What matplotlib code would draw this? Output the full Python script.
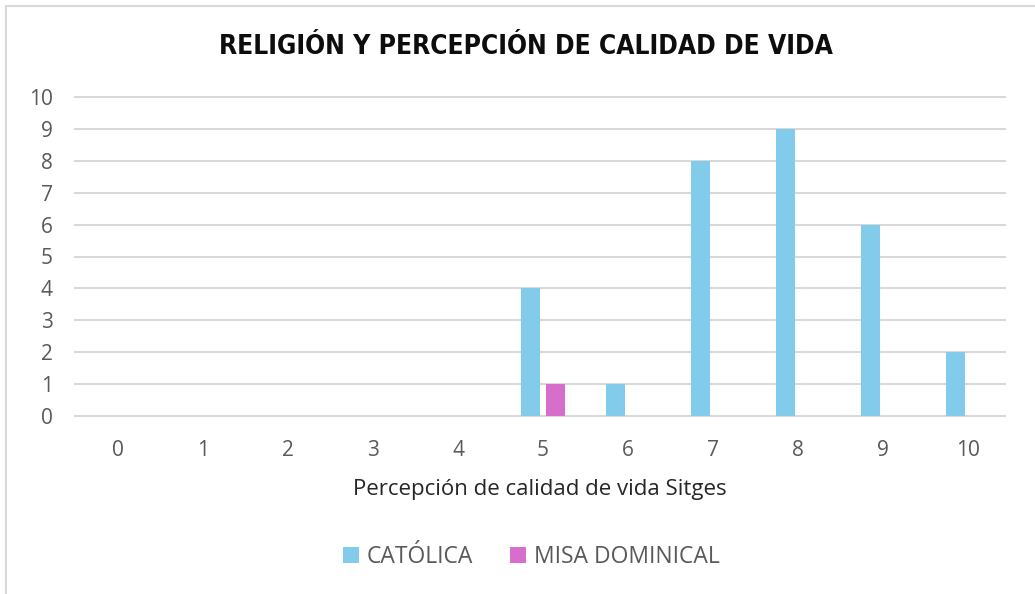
"""Religión y percepción de calidad de vida - bar chart."""

import matplotlib.pyplot as plt
import numpy as np
from matplotlib.patches import Rectangle

categories = ["0", "1", "2", "3", "4", "5", "6", "7", "8", "9", "10"]
catolica = [0, 0, 0, 0, 0, 4, 1, 8, 9, 6, 2]
misa_dominical = [0, 0, 0, 0, 0, 1, 0, 0, 0, 0, 0]
y_ticks = list(range(0, 11))

TEXT_GRAY = "#595959"
GRID = "#d9d9d9"
BLUE = "#83cbeb"
PINK = "#d86ecc"

plt.rcParams["font.family"] = ["Open Sans", "DejaVu Sans"]

fig = plt.figure(figsize=(10.35, 5.94), dpi=100)

# chart frame (light border on top/left like the Excel screenshot)
fig.patches.append(Rectangle((6 / 1035, -0.1), 1.2, (594 - 6) / 594 + 0.1,
                             transform=fig.transFigure, fill=False,
                             edgecolor="#d9d9d9", linewidth=1.5))

ax = fig.add_axes([75 / 1035, 1 - 416 / 594, 930 / 1035, (416 - 97) / 594])

x = np.arange(len(categories))
width = 0.227
off = 0.149
ax.bar(x - off, catolica, width, color=BLUE, label="CATÓLICA", zorder=3)
ax.bar(x + off, misa_dominical, width, color=PINK, label="MISA DOMINICAL", zorder=3)

ax.set_xlim(-0.506, 10.435)
ax.set_ylim(0, 10)
ax.set_yticks(y_ticks)
ax.set_xticks(x)
ax.set_xticklabels(categories)

for yv in y_ticks:
    ax.axhline(yv, color=GRID, linewidth=1.5, zorder=1, clip_on=False)

for s in ax.spines.values():
    s.set_visible(False)
ax.tick_params(axis="both", length=0, labelsize=15, labelcolor=TEXT_GRAY)
ax.tick_params(axis="y", pad=16)
ax.tick_params(axis="x", pad=17)

ax.set_xlabel("Percepción de calidad de vida Sitges", fontsize=16,
              color="#262626", labelpad=13)

fig.text(0.508, 1 - 47 / 594, "RELIGIÓN Y PERCEPCIÓN DE CALIDAD DE VIDA",
         ha="center", va="center", fontsize=18.9, fontweight="bold",
         fontstretch="condensed", family=["DejaVu Sans"], color="#0d0d0d")

leg = fig.legend(loc="center", bbox_to_anchor=(531 / 1035, 1 - 557 / 594),
                 ncol=2, frameon=False, fontsize=16.5, handlelength=0.7,
                 handleheight=0.7, handletextpad=0.35, columnspacing=1.6)
for t in leg.get_texts():
    t.set_color(TEXT_GRAY)

fig.savefig("out.png", dpi=100)
